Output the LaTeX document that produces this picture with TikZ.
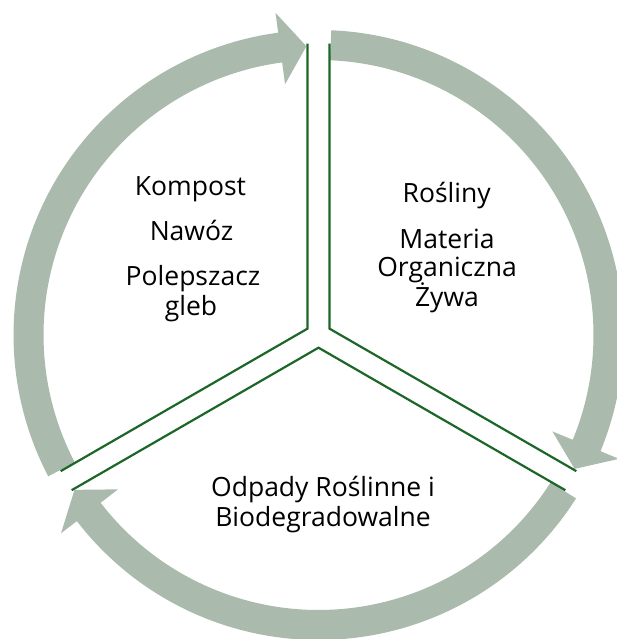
\documentclass[tikz,border=0pt]{standalone}
\usepackage{fontspec}
\setmainfont{Open Sans}
\usetikzlibrary{calc}
\definecolor{arrowgray}{RGB}{170,186,172}
\definecolor{segline}{RGB}{28,102,40}
\begin{document}
\begin{tikzpicture}[x=1pt,y=1pt,
  arrowband/.style={fill=arrowgray},
  segedge/.style={draw=segline, line width=2.2pt},
  lbl/.style={font=\fontsize{26.5}{31}\selectfont, anchor=base, inner sep=0pt}]
\useasboundingbox (0,0) rectangle (617,639);
\coordinate (C) at (318.5,304);
% circular arrows
\begin{scope}[shift={(C)}]
\fill[arrowband] (207.6:305) arc[start angle=207.6,end angle=97.6,radius=305pt]
  -- (97.6:325) -- (92.4:289) -- (97.6:253) -- (97.6:275)
  arc[start angle=97.6,end angle=207.6,radius=275pt] -- cycle;
\fill[arrowband] (87.6:305) arc[start angle=87.6,end angle=-22.4,radius=305pt]
  -- (-22.4:325) -- (-27.6:289) -- (-22.4:253) -- (-22.4:275)
  arc[start angle=-22.4,end angle=87.6,radius=275pt] -- cycle;
\fill[arrowband] (-32.4:305) arc[start angle=-32.4,end angle=-142.4,radius=305pt]
  -- (-142.4:325) -- (-147.6:289) -- (-142.4:253) -- (-142.4:275)
  arc[start angle=-142.4,end angle=-32.4,radius=275pt] -- cycle;
\end{scope}
% segment corners
\coordinate (kTL) at ($(C)+(150:12.7)$);
\coordinate (kTR) at ($(C)+(30:12.7)$);
\coordinate (kB) at ($(C)+(270:12.7)$);
\coordinate (eTLa) at ($(kTL)+(90:285)$);
\coordinate (eTLb) at ($(kTL)+(210:285)$);
\coordinate (eTRa) at ($(kTR)+(90:285)$);
\coordinate (eTRb) at ($(kTR)+(-30:285)$);
\coordinate (eBa) at ($(kB)+(-30:285)$);
\coordinate (eBb) at ($(kB)+(210:285)$);
\draw[segedge] (eTLa) -- (kTL) -- (eTLb);
\draw[segedge] (eTRa) -- (kTR) -- (eTRb);
\draw[segedge] (eBa) -- (kB) -- (eBb);
% texts
\node[lbl] (t1) at (190.5,443) {Kompost};
\node[lbl] (t2) at (191.5,398) {Nawóz};
\node[lbl] (t3) at (193,353) {Polepszacz};
\node[lbl] (t4) at (191,323) {gleb};
\node[lbl] (t5) at (446.7,436.3) {Rośliny};
\node[lbl] (t6) at (447,390.7) {Materia};
\node[lbl] (t7) at (447,362) {Organiczna};
\node[lbl] (t8) at (447,332) {Żywa};
\node[lbl] (t9) at (323,142.3) {Odpady Roślinne i};
\node[lbl] (t10) at (323,112.3) {Biodegradowalne};
\end{tikzpicture}
\end{document}
